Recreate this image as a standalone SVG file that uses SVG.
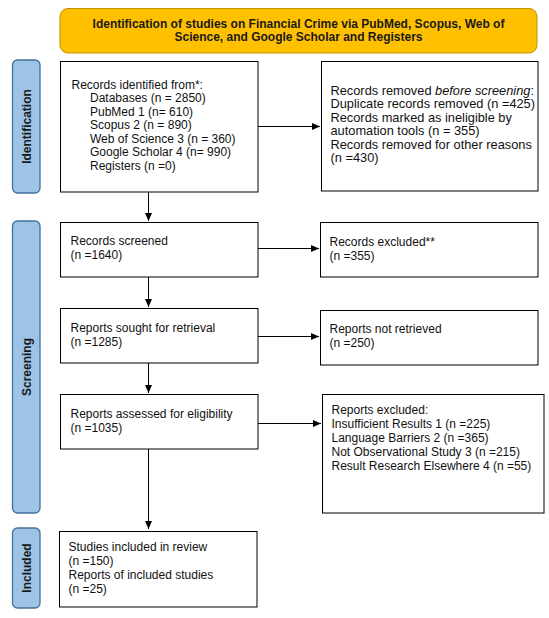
<svg xmlns="http://www.w3.org/2000/svg" width="549" height="618" viewBox="0 0 549 618">
<defs>
<marker id="ah" markerWidth="8" markerHeight="8" refX="8" refY="4" orient="auto" markerUnits="userSpaceOnUse">
<path d="M0,0.5 L8,4 L0,7.5 z" fill="#000"/>
</marker>
<style>
.box{fill:#fff;stroke:#000;stroke-width:1}
.lab{fill:#9DC3E6;stroke:#41719C;stroke-width:1.3}
.t{font-family:"Liberation Sans",Arial,sans-serif;font-size:12px;fill:#111}
.t2{font-family:"Liberation Sans",Arial,sans-serif;font-size:12.8px;fill:#111}
.b{font-family:"Liberation Sans",Arial,sans-serif;font-size:12px;font-weight:bold;fill:#1a1a1a}
.c{stroke:#000;stroke-width:1;fill:none;marker-end:url(#ah)}
</style>
</defs>
<rect width="549" height="618" fill="#fff"/>
<g id="header">
<rect x="60" y="8.5" width="477" height="44.5" rx="8" fill="#FFC000" stroke="#BF9000" stroke-width="1"/>
<text class="b" x="298.5" y="27.5" text-anchor="middle">Identification of studies on Financial Crime via PubMed, Scopus, Web of</text>
<text class="b" x="298.5" y="41" text-anchor="middle">Science, and Google Scholar and Registers</text>
</g>
<g id="label-identification">
<rect class="lab" x="12.5" y="60" width="27.5" height="133" rx="5"/>
<text class="b" transform="translate(30.5,126.5) rotate(-90)" text-anchor="middle">Identification</text>
</g>
<g id="label-screening">
<rect class="lab" x="12.5" y="221" width="27.5" height="292" rx="5"/>
<text class="b" transform="translate(30.5,367) rotate(-90)" text-anchor="middle">Screening</text>
</g>
<g id="label-included">
<rect class="lab" x="12.5" y="528" width="27.5" height="80" rx="5"/>
<text class="b" transform="translate(30.5,568) rotate(-90)" text-anchor="middle">Included</text>
</g>
<g id="records-identified">
<rect class="box" x="60.5" y="61.5" width="197.5" height="130.5"/>
<text class="t" x="71.5" y="88.5">Records identified from*:</text>
<text class="t" x="90" y="102">Databases (n = 2850)</text>
<text class="t" x="90" y="115.5">PubMed 1 (n= 610)</text>
<text class="t" x="90" y="129">Scopus 2 (n = 890)</text>
<text class="t" x="90" y="142.5">Web of Science 3 (n = 360)</text>
<text class="t" x="90" y="156">Google Scholar 4 (n= 990)</text>
<text class="t" x="90" y="169.5">Registers (n =0)</text>
</g>
<g id="records-removed">
<rect class="box" x="321.5" y="61.5" width="216.5" height="129.5"/>
<text class="t2" x="330.5" y="94.5">Records removed <tspan font-style="italic">before screening</tspan>:</text>
<text class="t2" x="330.5" y="108">Duplicate records removed (n =425)</text>
<text class="t2" x="330.5" y="121.5">Records marked as ineligible by</text>
<text class="t2" x="330.5" y="135">automation tools (n = 355)</text>
<text class="t2" x="330.5" y="148.5">Records removed for other reasons</text>
<text class="t2" x="330.5" y="162">(n =430)</text>
</g>
<g id="records-screened">
<rect class="box" x="60.5" y="222.5" width="197.5" height="54.5"/>
<text class="t" x="70.5" y="245">Records screened</text>
<text class="t" x="70.5" y="259">(n =1640)</text>
</g>
<g id="records-excluded">
<rect class="box" x="320.5" y="222.5" width="217.5" height="54.5"/>
<text class="t" x="329.5" y="246">Records excluded**</text>
<text class="t" x="329.5" y="260">(n =355)</text>
</g>
<g id="reports-sought">
<rect class="box" x="60.5" y="308.5" width="197.5" height="54.5"/>
<text class="t" x="70.5" y="332">Reports sought for retrieval</text>
<text class="t" x="70.5" y="346">(n =1285)</text>
</g>
<g id="reports-not-retrieved">
<rect class="box" x="320.5" y="310.5" width="217.5" height="54.5"/>
<text class="t" x="329.5" y="333">Reports not retrieved</text>
<text class="t" x="329.5" y="347">(n =250)</text>
</g>
<g id="reports-assessed">
<rect class="box" x="60.5" y="394.5" width="197.5" height="54.5"/>
<text class="t" x="70.5" y="418">Reports assessed for eligibility</text>
<text class="t" x="70.5" y="432">(n =1035)</text>
</g>
<g id="reports-excluded">
<rect class="box" x="322.5" y="394.5" width="221.5" height="118.5"/>
<text class="t" x="331.5" y="414">Reports excluded:</text>
<text class="t" x="331.5" y="428">Insufficient Results 1 (n =225)</text>
<text class="t" x="331.5" y="442">Language Barriers 2 (n =365)</text>
<text class="t" x="331.5" y="456">Not Observational Study 3 (n =215)</text>
<text class="t" x="331.5" y="470">Result Research Elsewhere 4 (n =55)</text>
</g>
<g id="studies-included">
<rect class="box" x="59.5" y="531.5" width="197.5" height="75.5"/>
<text class="t" x="68.5" y="551">Studies included in review</text>
<text class="t" x="68.5" y="565">(n =150)</text>
<text class="t" x="68.5" y="579">Reports of included studies</text>
<text class="t" x="68.5" y="593">(n =25)</text>
</g>
<g id="connectors">
<line class="c" x1="258" y1="126.5" x2="320" y2="126.5"/>
<line class="c" x1="148.5" y1="192" x2="148.5" y2="221"/>
<line class="c" x1="258" y1="248.5" x2="319" y2="248.5"/>
<line class="c" x1="148.5" y1="277" x2="148.5" y2="307"/>
<line class="c" x1="258" y1="336.5" x2="319" y2="336.5"/>
<line class="c" x1="148.5" y1="363" x2="148.5" y2="393"/>
<line class="c" x1="258" y1="423.5" x2="321" y2="423.5"/>
<line class="c" x1="148.5" y1="449" x2="148.5" y2="529"/>
</g>
</svg>
